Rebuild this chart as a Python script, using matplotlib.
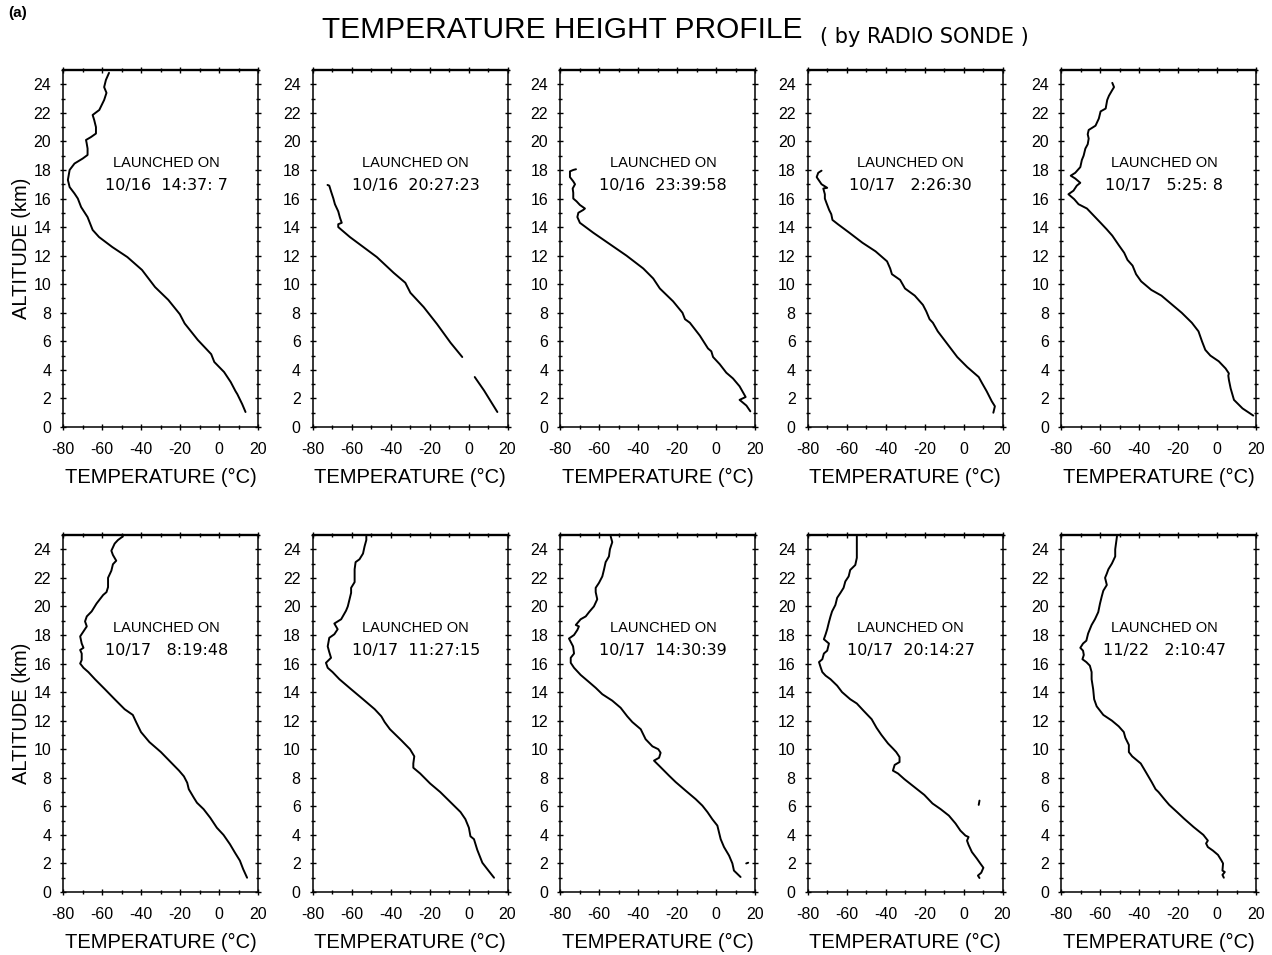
import numpy as np
import matplotlib
matplotlib.use("Agg")
import matplotlib.pyplot as plt
from matplotlib.ticker import MultipleLocator

plt.rcParams['font.family'] = ['Liberation Sans', 'DejaVu Sans']
plt.rcParams['axes.unicode_minus'] = False

nan = np.nan

# ---- sounding data: altitude (km) and temperature (degC) per launch ----
launch_dates = ["10/16", "10/16", "10/16", "10/17", "10/17",
                "10/17", "10/17", "10/17", "10/17", "11/22"]
launch_times = ["14:37: 7", "20:27:23", "23:39:58", " 2:26:30", " 5:25: 8",
                " 8:19:48", "11:27:15", "14:30:39", "20:14:27", " 2:10:47"]

alt_1 = [1.05, 1.6, 2.3, 2.5, 3.15, 3.85, 4.55, 5.1, 6.1, 7.25, 7.9, 8.9, 9.8, 11.0, 11.9,
         12.6, 13.3, 13.8, 14.7, 15.4, 16.0, 16.35, 16.8, 17.3, 18.0, 18.45, 18.8, 19.05,
         19.5, 19.9, 20.1, 20.3, 20.55, 21.0, 21.5, 21.85, 22.2, 22.9, 23.4, 23.8, 24.3, 24.8]
temp_1 = [13.6, 11.9, 9.4, 8.5, 6.0, 2.6, -2.4, -4.0, -10.9, -17.6, -20.1, -26.0, -32.8, -39.5,
          -47.0, -54.7, -61.5, -64.8, -67.4, -70.7, -72.4, -74.1, -76.6, -77.5, -76.6, -74.1,
          -69.9, -67.4, -67.4, -67.9, -68.2, -65.7, -63.1, -63.1, -64.0, -64.8, -61.4, -58.9,
          -57.7, -58.9, -58.0, -56.4]

alt_2 = [1.05, 1.6, 2.55, 3.4, 3.5, nan,
         4.9, 5.9, 7.2, 8.4, 9.4, 10.1, 10.8, 11.9, 12.6, 13.3, 14.0, 14.2, 14.3, 14.65,
         15.1, 15.6, 16.0, 16.5, 16.9, 16.95]
temp_2 = [14.8, 12.3, 8.0, 3.7, 3.2, nan,
          -3.2, -9.2, -16.1, -23.0, -29.8, -32.4, -38.4, -47.0, -53.9, -60.8, -66.8, -66.8,
          -65.0, -65.9, -66.8, -68.5, -69.3, -70.5, -71.4, -72.3]

alt_3 = [1.1, 1.5, 1.9, 2.1, 2.85, 3.4, 3.8, 4.4, 4.9, 5.3, 5.5, 6.4, 7.3, 7.55, 8.0, 8.8,
         9.7, 10.4, 11.1, 12.0, 12.8, 13.6, 14.3, 14.7, 15.0, 15.2, 15.3, 15.55, 15.8, 16.0,
         16.4, 16.7, 17.0, 17.2, 17.5, 17.9, 18.0, 18.05]
temp_3 = [17.6, 15.6, 12.1, 15.2, 12.1, 8.7, 5.3, 1.9, -1.5, -2.4, -4.1, -8.3, -13.4, -15.9,
          -17.2, -22.0, -28.8, -32.2, -37.3, -45.9, -54.4, -62.9, -69.8, -71.1, -70.6, -68.1,
          -67.2, -69.8, -71.5, -73.2, -73.2, -73.5, -72.3, -73.2, -74.9, -74.9, -73.2, -71.8]

alt_4 = [1.0, 1.45, 1.8, 2.5, 3.1, 3.5, 4.2, 4.9, 5.8, 6.7, 7.3, 7.55, 8.1, 8.55, 9.2, 9.7,
         10.3, 10.7, 11.1, 11.6, 12.3, 12.9, 13.6, 14.2, 14.5, 14.9, 15.2, 15.7, 16.0, 16.3,
         16.7, 16.75, 17.0, 17.5, 17.8, 17.95]
temp_4 = [15.3, 16.1, 14.5, 11.9, 9.4, 7.8, 1.9, -3.2, -8.2, -13.2, -15.7, -17.4, -19.1,
          -20.8, -25.0, -30.0, -32.5, -36.7, -37.6, -39.2, -45.1, -51.8, -58.5, -64.4, -67.2,
          -67.8, -68.9, -70.3, -71.1, -71.1, -71.9, -69.9, -72.8, -75.3, -74.5, -72.8]

alt_5 = [0.8, 1.3, 1.9, 2.7, 3.3, 3.6, 3.75, 4.1, 4.6, 5.0, 5.4, 6.0, 6.7, 7.3, 8.0, 8.6,
         9.2, 9.6, 10.2, 10.7, 11.3, 11.7, 12.2, 12.7, 13.4, 13.85, 14.3, 14.8, 15.3, 15.6,
         15.95, 16.3, 16.55, 16.9, 17.1, 17.4, 17.6, 17.8, 18.2, 18.7, 19.0, 19.5, 19.8,
         20.2, 20.5, 20.8, 21.1, 21.6, 22.1, 22.3, 22.9, 23.2, 23.6, 23.8, 24.1]
temp_5 = [18.6, 13.1, 8.7, 7.0, 6.1, 5.8, 6.1, 4.4, 0.9, -3.4, -6.0, -7.7, -9.5, -12.9,
          -18.1, -23.3, -28.5, -33.7, -38.9, -41.5, -43.3, -45.9, -47.6, -50.2, -53.7,
          -56.6, -59.7, -63.2, -66.7, -71.0, -73.2, -76.2, -73.6, -71.9, -70.1, -72.7,
          -75.0, -72.7, -70.1, -69.3, -68.4, -67.5, -66.3, -65.8, -66.3, -65.8, -62.3,
          -60.6, -59.7, -57.1, -56.3, -55.4, -53.7, -52.8, -53.7]

alt_6 = [1.0, 1.6, 2.2, 2.75, 3.35, 4.0, 4.5, 5.2, 5.8, 6.25, 6.6, 7.2, 7.65, 8.1, 8.5, 9.1,
         9.8, 10.5, 11.2, 11.9, 12.4, 12.8, 13.5, 14.2, 14.9, 15.4, 15.7, 16.0, 16.25, 16.7,
         16.95, 17.1, 17.4, 17.9, 18.25, 18.6, 18.95, 19.3, 19.65, 20.2, 20.8, 21.0, 21.35,
         22.0, 22.5, 22.95, 23.2, 23.6, 23.9, 24.4, 24.65, 24.9]
temp_6 = [14.4, 12.4, 10.7, 8.2, 5.6, 2.3, -1.1, -4.5, -7.9, -11.3, -12.9, -15.5, -16.3,
          -18.0, -20.5, -24.8, -29.8, -35.7, -40.0, -42.5, -44.2, -48.4, -53.5, -58.5,
          -63.6, -67.0, -69.5, -71.2, -70.4, -70.4, -71.2, -69.5, -70.4, -71.2, -69.5,
          -67.8, -68.7, -67.8, -65.3, -62.8, -59.4, -57.7, -56.9, -56.9, -55.2, -54.4,
          -52.7, -54.4, -55.2, -53.5, -51.8, -49.3]

alt_7 = [1.0, 1.45, 2.05, 2.95, 3.7, 3.9, 4.5, 5.1, 5.6, 6.3, 7.0, 7.6, 8.3, 8.7, 9.0, 9.5,
         10.0, 10.6, 11.4, 11.9, 12.3, 12.8, 13.5, 14.2, 14.9, 15.4, 15.7, 16.05, 16.4,
         16.8, 17.2, 17.8, 18.05, 18.4, 18.8, 19.1, 19.7, 20.0, 20.5, 20.95, 21.3, 21.7,
         22.0, 22.6, 23.1, 23.3, 23.7, 24.2, 24.65, 24.9]
temp_7 = [13.1, 10.5, 7.1, 4.5, 2.8, 1.0, 0.2, -1.6, -4.1, -9.3, -14.5, -19.7, -24.8, -28.3,
          -28.3, -27.8, -30.0, -34.3, -40.3, -43.0, -44.7, -48.1, -54.1, -60.2, -66.2,
          -69.7, -72.2, -73.1, -70.5, -71.4, -72.2, -71.4, -68.8, -67.1, -68.8, -65.3,
          -62.8, -61.9, -61.0, -60.2, -60.2, -58.4, -58.4, -58.4, -57.9, -55.9, -54.1,
          -53.3, -52.4, -52.4]

alt_8 = [1.05, 1.5, 2.0, 2.55, 3.15, 3.7, 4.2, 4.65, 5.1, 5.6, 6.05, 6.5, 7.1, 7.7, 8.15,
         8.85, 9.2, 9.4, 9.75, 10.0, 10.2, 10.7, 11.4, 11.9, 12.3, 12.9, 13.4, 13.85, 14.3,
         14.7, 15.2, 15.7, 16.05, 16.4, 16.7, 17.2, 17.75, 18.0, 18.35, 18.6, 18.7, 19.1,
         19.3, 19.6, 20.0, 20.5, 21.0, 21.3, 21.65, 22.1, 22.6, 23.1, 23.5, 24.0, 24.5, 24.9,
         nan, 2.0, 2.05]
temp_8 = [12.6, 9.2, 8.4, 6.7, 4.1, 2.4, 1.5, 0.7, -1.9, -4.4, -7.0, -10.4, -15.6, -20.7,
          -24.1, -29.2, -31.8, -29.2, -28.4, -29.6, -32.6, -36.1, -38.6, -42.9, -45.5, -48.9,
          -53.2, -58.3, -61.7, -65.1, -69.4, -72.8, -74.5, -74.5, -72.8, -73.3, -75.4, -72.8,
          -71.1, -70.3, -71.9, -69.4, -66.8, -65.1, -62.6, -60.9, -61.7, -61.7, -60.0, -58.3,
          -57.4, -56.6, -54.9, -54.4, -53.2, -54.0,
          nan, 15.5, 16.5]

alt_9 = [0.98, 1.15, 1.35, 1.7, 2.0, 2.35, 2.8, 3.3, 3.6, 3.85, 3.95, 4.3, 4.8, 5.35, 5.8,
         6.2, 6.8, 7.35, 7.9, 8.3, 8.5, 8.9, 9.1, 9.45, 9.8, 10.05, 10.4, 11.0, 11.5, 12.1,
         12.7, 13.2, 13.5, 14.0, 14.45, 14.9, 15.15, 15.4, 15.75, 16.1, 16.3, 16.7, 16.9,
         17.4, 17.7, 18.05, 18.4, 18.9, 19.3, 19.65, 20.1, 20.6, 20.95, 21.3, 21.75, 22.1,
         22.55, 22.9, 23.4, 24.0, 24.7, 24.9,
         nan, 6.1, 6.4]
temp_9 = [8.2, 7.4, 9.1, 10.2, 8.6, 6.8, 4.3, 2.6, 1.8, 2.6, 1.0, -1.6, -4.1, -7.5, -11.7,
          -15.9, -20.1, -25.2, -30.3, -33.6, -36.2, -35.3, -32.8, -32.8, -34.5, -36.2, -38.7,
          -42.1, -44.6, -47.1, -51.3, -54.7, -58.1, -62.3, -64.8, -68.2, -70.7, -72.4, -73.3,
          -74.1, -72.4, -71.6, -69.9, -69.0, -71.6, -70.7, -69.9, -69.0, -68.2, -67.4, -65.7,
          -64.8, -63.1, -61.5, -60.6, -58.9, -58.1, -55.5, -54.7, -54.7, -54.7, -54.7,
          nan, 7.8, 8.2]

alt_10 = [1.0, 1.2, 1.4, 1.5, 2.0, 2.2, 2.6, 2.9, 3.15, 3.4, 3.6, 4.0, 4.55, 5.15, 5.6, 6.1,
          6.5, 7.0, 7.2, 7.7, 8.4, 9.0, 9.5, 9.8, 10.3, 10.8, 11.2, 11.6, 12.0, 12.4, 13.0,
          13.5, 14.2, 14.9, 15.4, 15.85, 16.1, 16.3, 16.6, 16.9, 17.1, 17.4, 17.6, 18.1,
          18.7, 19.1, 19.6, 20.2, 20.7, 21.1, 21.5, 22.0, 22.3, 22.6, 23.0, 23.5, 24.0, 24.9]
temp_10 = [3.5, 2.8, 4.0, 2.8, 3.1, 2.3, 0.5, -2.1, -4.7, -5.6, -4.7, -7.0, -12.0, -17.0,
           -20.5, -24.5, -27.0, -30.0, -31.5, -33.5, -36.5, -39.1, -43.5, -45.2, -45.2, -47.0,
           -47.8, -50.4, -53.9, -58.3, -61.7, -63.0, -63.5, -64.3, -64.3, -65.2, -67.0, -69.0,
           -68.3, -68.7, -70.1, -68.7, -67.0, -66.1, -64.3, -62.6, -60.9, -60.0, -59.1, -58.3,
           -56.5, -57.4, -56.5, -55.7, -53.9, -52.2, -52.2, -51.3]

altitudes = [alt_1, alt_2, alt_3, alt_4, alt_5, alt_6, alt_7, alt_8, alt_9, alt_10]
temperatures = [temp_1, temp_2, temp_3, temp_4, temp_5, temp_6, temp_7, temp_8, temp_9, temp_10]

# ---- figure layout ----
W, H = 1272, 955
fig = plt.figure(figsize=(W / 100, H / 100), dpi=100)

col_left = [63, 312.5, 560, 807.5, 1061]
col_width = 195
row_top = [70, 535]
row_height = 357

for i in range(10):
    r, c = divmod(i, 5)
    left = col_left[c] / W
    bottom = 1 - (row_top[r] + row_height) / H
    ax = fig.add_axes([left, bottom, col_width / W, row_height / H])

    ax.plot(temperatures[i], altitudes[i], color='black', lw=1.4,
            solid_joinstyle='round', solid_capstyle='round')

    ax.set_xlim(-80, 20)
    ax.set_ylim(0, 25)
    ax.xaxis.set_major_locator(MultipleLocator(20))
    ax.xaxis.set_minor_locator(MultipleLocator(10))
    ax.yaxis.set_major_locator(MultipleLocator(2))
    ax.yaxis.set_minor_locator(MultipleLocator(1))
    ax.tick_params(which='both', top=True, right=True, direction='inout',
                   width=1.0, color='black')
    ax.tick_params(which='major', length=5, labelsize=11.5)
    ax.tick_params(which='minor', length=3)
    ax.tick_params(axis='x', which='major', pad=8)
    ax.tick_params(axis='y', which='major', pad=6)
    for sp in ax.spines.values():
        sp.set_linewidth(1.1)
    ax.spines['top'].set_linewidth(1.7)

    ax.set_xlabel('TEMPERATURE (°C)', fontsize=14.5, labelpad=8)
    if c == 0:
        ax.set_ylabel('ALTITUDE (km)', fontsize=14.5, labelpad=2)

    ax.text(0.53, 18.5, 'LAUNCHED ON', transform=ax.get_yaxis_transform(),
            ha='center', va='center', fontsize=10.5)
    ax.text(0.53, 16.9, f'{launch_dates[i]}  {launch_times[i]}',
            transform=ax.get_yaxis_transform(),
            ha='center', va='center', fontsize=11.5, family=['DejaVu Sans'])

fig.text(322 / W, 1 - 30 / H, 'TEMPERATURE HEIGHT PROFILE', fontsize=21.5,
         ha='left', va='center')
fig.text(820 / W, 1 - 37 / H, '( by RADIO SONDE )', fontsize=15,
         ha='left', va='center', family=['DejaVu Sans'])
fig.text(8 / W, 1 - 13 / H, '(a)', fontsize=11, fontweight='bold',
         ha='left', va='center')

fig.savefig('out.png', dpi=100, facecolor='white')
